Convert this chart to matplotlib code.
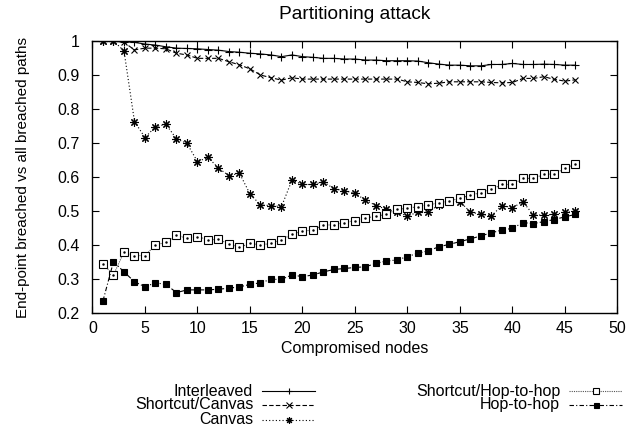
import matplotlib
matplotlib.use("Agg")
import matplotlib.pyplot as plt
from matplotlib.lines import Line2D

plt.rcParams['font.family'] = ['Liberation Sans', 'DejaVu Sans']
plt.rcParams['font.size'] = 11.5

# compromised nodes 1..46
nodes = list(range(1, 47))

interleaved = [1.0, 1.0, 0.998, 0.996, 0.991, 0.988, 0.983, 0.979, 0.978, 0.977,
               0.975, 0.973, 0.969, 0.967, 0.964, 0.962, 0.959, 0.954, 0.959, 0.954,
               0.952, 0.949, 0.949, 0.947, 0.947, 0.944, 0.944, 0.942, 0.942, 0.942,
               0.941, 0.936, 0.932, 0.929, 0.929, 0.927, 0.927, 0.931, 0.931, 0.934,
               0.931, 0.931, 0.932, 0.931, 0.929, 0.929]

shortcut_canvas = [1.0, 1.0, 0.996, 0.974, 0.979, 0.979, 0.977, 0.964, 0.959, 0.949,
                   0.949, 0.949, 0.939, 0.930, 0.918, 0.900, 0.892, 0.885, 0.892, 0.888,
                   0.888, 0.888, 0.888, 0.888, 0.888, 0.888, 0.888, 0.888, 0.888, 0.880,
                   0.878, 0.874, 0.876, 0.880, 0.880, 0.880, 0.880, 0.878, 0.877, 0.878,
                   0.890, 0.890, 0.895, 0.887, 0.882, 0.886]

canvas = [1.0, 1.0, 0.971, 0.763, 0.716, 0.748, 0.755, 0.712, 0.699, 0.645,
          0.658, 0.626, 0.604, 0.611, 0.550, 0.518, 0.516, 0.513, 0.591, 0.578,
          0.578, 0.586, 0.565, 0.560, 0.552, 0.532, 0.516, 0.505, 0.498, 0.485,
          0.497, 0.497, 0.518, 0.530, 0.527, 0.497, 0.490, 0.486, 0.516, 0.510,
          0.527, 0.488, 0.488, 0.490, 0.496, 0.499]

shortcut_hop = [0.344, 0.312, 0.380, 0.369, 0.369, 0.400, 0.408, 0.429, 0.420, 0.425,
                0.415, 0.417, 0.403, 0.393, 0.405, 0.400, 0.405, 0.415, 0.432, 0.441,
                0.444, 0.459, 0.459, 0.466, 0.472, 0.479, 0.485, 0.490, 0.505, 0.508,
                0.513, 0.518, 0.524, 0.530, 0.537, 0.547, 0.554, 0.564, 0.578, 0.578,
                0.596, 0.596, 0.608, 0.609, 0.626, 0.638]

hop_to_hop = [0.236, 0.351, 0.321, 0.292, 0.277, 0.289, 0.284, 0.260, 0.268, 0.268,
              0.268, 0.270, 0.273, 0.277, 0.284, 0.289, 0.299, 0.299, 0.312, 0.307,
              0.312, 0.321, 0.328, 0.331, 0.334, 0.336, 0.346, 0.353, 0.356, 0.366,
              0.376, 0.383, 0.395, 0.402, 0.410, 0.418, 0.427, 0.436, 0.444, 0.449,
              0.466, 0.463, 0.469, 0.475, 0.483, 0.490]

asterisk = (8, 2, 0)

# name, values, line style, colour, marker, marker size, marker face
styles = [
    ("Interleaved", interleaved, "-", "black", "+", 6, "black"),
    ("Shortcut/Canvas", shortcut_canvas, (0, (4, 2)), "black", "x", 5, "black"),
    ("Canvas", canvas, (0, (1, 2)), "black", asterisk, 6, "black"),
    ("Shortcut/Hop-to-hop", shortcut_hop, (0, (1, 1)), "#555555", "s", 5.5, "white"),
    ("Hop-to-hop", hop_to_hop, (0, (4, 2, 1, 2)), "black", "s", 4.5, "black"),
]

fig = plt.figure(figsize=(6.41, 4.40), dpi=100)
ax = fig.add_axes([0.1443, 0.2886, 0.819, 0.6182])

for name, vals, ls, col, mk, ms, mfc in styles:
    ax.plot(nodes, vals, linestyle=ls, color=col, lw=0.8, marker=mk, markersize=ms,
            markerfacecolor=mfc, markeredgecolor="black", markeredgewidth=0.8)
    if name == "Shortcut/Hop-to-hop":
        ax.plot(nodes, vals, linestyle="none", marker=".", markersize=1.5, color="black")

ax.set_xlim(0, 50)
ax.set_ylim(0.2, 1.0)
ax.set_xticks(range(0, 51, 5))
ax.set_yticks([0.2, 0.3, 0.4, 0.5, 0.6, 0.7, 0.8, 0.9, 1.0])
ax.set_yticklabels(["0.2", "0.3", "0.4", "0.5", "0.6", "0.7", "0.8", "0.9", "1"])
ax.tick_params(direction="in", top=True, right=True, length=5, width=0.8, pad=6)
ax.tick_params(axis="y", pad=9)
for sp in ax.spines.values():
    sp.set_linewidth(1.0)

ax.set_xlabel("Compromised nodes", labelpad=3)
ax.set_ylabel("End-point breached vs all breached paths", labelpad=20, fontsize=11)
ax.set_title("Partitioning attack", pad=16)

# gnuplot style key below the plot: label right aligned, sample on the right
key_pos = [(0.395, 0.111), (0.395, 0.080), (0.395, 0.046), (0.874, 0.111), (0.874, 0.080)]
for (xr, yk), style in zip(key_pos, styles):
    name, vals, ls, col, mk, ms, mfc = style
    fig.text(xr, yk, name, ha="right", va="center")
    x0 = xr + 0.014
    x1 = x0 + 0.083
    ln = Line2D([x0, (x0 + x1) / 2, x1], [yk, yk, yk], transform=fig.transFigure,
                linestyle=ls, color=col, lw=0.8, marker=mk, markersize=ms * 0.8,
                markerfacecolor=mfc, markeredgecolor="black", markeredgewidth=0.8,
                markevery=[1])
    fig.add_artist(ln)

fig.savefig("out.png", dpi=100)
